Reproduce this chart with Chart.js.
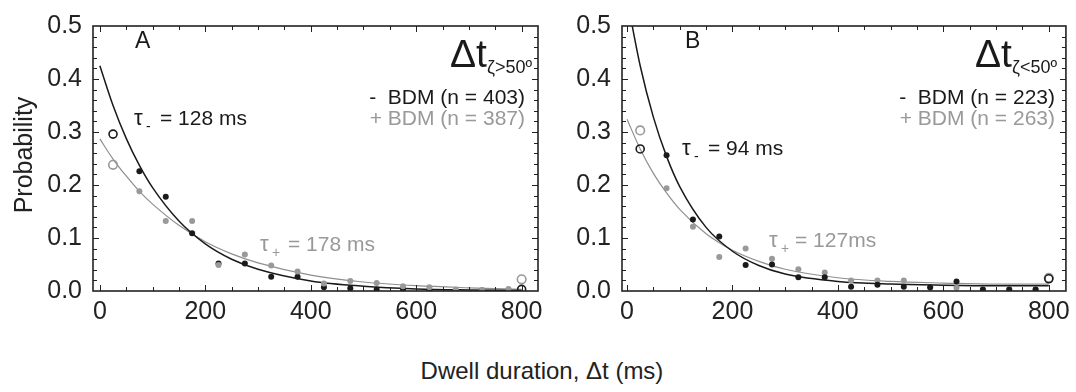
<!DOCTYPE html>
<html>
<head>
<meta charset="utf-8">
<script src="https://cdn.jsdelivr.net/npm/chart.js@4.4.0/dist/chart.umd.min.js"></script>
<style>
  html, body { margin: 0; padding: 0; background: #fff; }
  #wrap { position: relative; width: 1076px; height: 392px; overflow: hidden;
          font-family: "Liberation Sans", Arial, sans-serif; color: #222; }
  canvas { position: absolute; top: 0; }
  #xtitle { position: absolute; left: 0; width: 1084px; top: 356px; line-height: 30px;
            text-align: center; font-size: 24px; }
  #ytitle { position: absolute; left: -77px; top: 140px; width: 200px; line-height: 30px;
            text-align: center; font-size: 25px; transform: rotate(-90deg); }
</style>
</head>
<body>
<div id="wrap">
  <canvas id="panelA" width="560" height="340" style="left:0px"></canvas>
  <canvas id="panelB" width="516" height="340" style="left:560px"></canvas>
  <div id="ytitle">Probability</div>
  <div id="xtitle">Dwell duration, &Delta;t (ms)</div>
</div>
<script>
// bin centres (ms) for the filled dots, open circles sit at the first bin and the overflow bin
const binX = [75, 125, 175, 225, 275, 325, 375, 425, 475, 525, 575, 625, 675, 725, 775];
const openX = [25, 800];
const fitX = [0, 25, 50, 75, 100, 150, 200, 250, 300, 400, 500, 600, 700, 800];
const xTicks = [0, 200, 400, 600, 800];
const yTicks = [0, 0.1, 0.2, 0.3, 0.4, 0.5];

// panel A : dt, zeta > 50
const aMinus = [0.226, 0.178, 0.109, 0.052, 0.052, 0.027, 0.027, 0.007, 0.005, 0.003, 0.003, 0.001, 0.001, 0.001, 0.001];
const aPlus  = [0.188, 0.132, 0.132, 0.049, 0.069, 0.048, 0.037, 0.014, 0.019, 0.015, 0.009, 0.007, 0.003, 0.002, 0.004];
const aMinusOpen = [0.296, 0.003];
const aPlusOpen  = [0.238, 0.022];
const aMinusFit = [0.425, 0.350, 0.288, 0.237, 0.195, 0.132, 0.089, 0.060, 0.041, 0.019, 0.009, 0.004, 0.002, 0.001];
const aPlusFit  = [0.287, 0.249, 0.217, 0.188, 0.164, 0.124, 0.093, 0.070, 0.053, 0.030, 0.017, 0.010, 0.006, 0.003];

// panel B : dt, zeta < 50
const bMinus = [0.256, 0.135, 0.103, 0.049, 0.050, 0.026, 0.026, 0.008, 0.012, 0.008, 0.007, 0.018, 0.003, 0.003, 0.003];
const bPlus  = [0.194, 0.121, 0.064, 0.080, 0.061, 0.041, 0.035, 0.020, 0.020, 0.020, 0.006, 0.006, 0.003, 0.003, 0.003];
const bMinusOpen = [0.268, 0.023];
const bPlusOpen  = [0.303, 0.025];
const bMinusFit = [0.552, 0.425, 0.328, 0.254, 0.197, 0.120, 0.075, 0.048, 0.032, 0.018, 0.013, 0.011, 0.010, 0.010];
const bPlusFit  = [0.324, 0.268, 0.222, 0.185, 0.154, 0.108, 0.077, 0.056, 0.041, 0.025, 0.018, 0.015, 0.013, 0.013];

const BLACK = '#1a1a1a';
const GREY = '#999999';
const FONT = '"Liberation Sans", Arial, sans-serif';

function pts(xs, ys) {
  return xs.map((x, i) => ({ x: x, y: ys[i] }));
}

function dots(values, colour) {
  return { data: pts(binX, values), showLine: false, pointRadius: 3,
           pointBackgroundColor: colour, pointBorderWidth: 0 };
}

function rings(values, colour, r) {
  return { data: pts(openX, values), showLine: false, pointRadius: r,
           pointBackgroundColor: 'rgba(0,0,0,0)', pointBorderColor: colour, pointBorderWidth: 1.6 };
}

function fit(values, colour, w) {
  return { data: pts(fitX, values), showLine: true, pointRadius: 0, borderColor: colour,
           borderWidth: w, cubicInterpolationMode: 'monotone', fill: false };
}

// frame, inward ticks and the text notes
const framePlugin = {
  id: 'frame',
  afterDraw(chart, args, opts) {
    const ctx = chart.ctx;
    const a = chart.chartArea;
    const x = chart.scales.x, y = chart.scales.y;
    ctx.save();
    ctx.strokeStyle = '#222';
    ctx.lineWidth = 1;
    ctx.beginPath();
    for (let v = 0; v <= 800; v += 50) {
      const px = Math.round(x.getPixelForValue(v)) + 0.5;
      const len = v % 200 === 0 ? 6 : 4;
      ctx.moveTo(px, a.bottom); ctx.lineTo(px, a.bottom - len);
      ctx.moveTo(px, a.top); ctx.lineTo(px, a.top + len);
    }
    for (let i = 1; i < 25; i++) {
      const py = Math.round(y.getPixelForValue(i * 0.02)) + 0.5;
      const len = i % 5 === 0 ? 6 : 4;
      ctx.moveTo(a.left, py); ctx.lineTo(a.left + len, py);
      ctx.moveTo(a.right, py); ctx.lineTo(a.right - len, py);
    }
    ctx.stroke();
    ctx.lineWidth = 1.6;
    ctx.strokeRect(a.left, a.top, a.right - a.left, a.bottom - a.top);

    const off = opts.offset;
    ctx.textBaseline = 'alphabetic';
    // panel letter
    ctx.fillStyle = BLACK;
    ctx.font = '23px ' + FONT;
    ctx.textAlign = 'left';
    ctx.fillText(opts.letter, opts.letterX - off, 48);

    // big dt with subscript, right aligned
    ctx.font = '39px ' + FONT;
    const w1 = ctx.measureText('\u0394t').width;
    ctx.font = '18px ' + FONT;
    const w2 = ctx.measureText(opts.sub).width;
    const start = opts.dtRight - off - w1 - w2;
    ctx.font = '39px ' + FONT;
    ctx.fillText('\u0394t', start, 67);
    ctx.font = '18px ' + FONT;
    ctx.fillText(opts.sub, start + w1, 73);

    // legend lines
    ctx.font = '21px ' + FONT;
    ctx.textAlign = 'right';
    ctx.fillStyle = BLACK;
    ctx.fillText(opts.leg1, opts.legRight - off, 104);
    ctx.fillStyle = GREY;
    ctx.fillText(opts.leg2, opts.legRight - off, 125);

    // tau labels
    ctx.textAlign = 'left';
    opts.taus.forEach(t => {
      ctx.fillStyle = t.colour;
      ctx.font = '22px ' + FONT;
      ctx.fillText('\u03C4', t.x - off, t.base);
      ctx.font = '21px ' + FONT;
      ctx.fillText(t.text, t.x - off + t.gap, t.base);
      ctx.font = '14px ' + FONT;
      ctx.fillText(t.sign, t.x - off + 12, t.base + 6);
    });
    ctx.restore();
  }
};

function makePanel(id, cfg) {
  // the first dataset is drawn on top
  const dotSets = cfg.greyOnTop
    ? [dots(cfg.plus, GREY), dots(cfg.minus, BLACK)]
    : [dots(cfg.minus, BLACK), dots(cfg.plus, GREY)];
  return new Chart(document.getElementById(id), {
    type: 'scatter',
    data: { datasets: dotSets.concat([
      rings(cfg.minusOpen, BLACK, 4),
      rings(cfg.plusOpen, GREY, 4.3),
      fit(cfg.minusFit, BLACK, 1.5),
      fit(cfg.plusFit, '#8f8f8f', 1.2)
    ]) },
    options: {
      responsive: false,
      animation: false,
      layout: { padding: { top: 15, right: cfg.padRight, left: 0, bottom: 0 } },
      scales: {
        x: {
          type: 'linear', min: cfg.xMin, max: cfg.xMax,
          afterBuildTicks: s => { s.ticks = xTicks.map(v => ({ value: v })); },
          afterFit: s => { s.height = 49; },
          grid: { display: false, drawTicks: false },
          border: { display: false },
          ticks: { padding: 6, color: '#222', font: { size: 25, family: FONT } }
        },
        y: {
          type: 'linear', min: 0, max: 0.5,
          afterBuildTicks: s => { s.ticks = yTicks.map(v => ({ value: v })); },
          afterFit: s => { s.width = cfg.yWidth; },
          grid: { display: false, drawTicks: false },
          border: { display: false },
          ticks: { padding: 11, color: '#222', font: { size: 25, family: FONT },
                   callback: v => v.toFixed(1) }
        }
      },
      plugins: {
        legend: { display: false },
        tooltip: { enabled: false },
        frame: cfg.notes
      }
    },
    plugins: [framePlugin]
  });
}

makePanel('panelA', {
  minus: aMinus, plus: aPlus, minusOpen: aMinusOpen, plusOpen: aPlusOpen,
  minusFit: aMinusFit, plusFit: aPlusFit, greyOnTop: true,
  xMin: -13, xMax: 831, yWidth: 93, padRight: 22,
  notes: {
    offset: 0, letter: 'A', letterX: 135, sub: '\u03B6>50\u00BA', dtRight: 532,
    leg1: '-  BDM (n = 403)', leg2: '+ BDM (n = 387)', legRight: 525,
    taus: [
      { x: 134, base: 125, sign: '-', text: '= 128 ms', gap: 26, colour: BLACK },
      { x: 260, base: 251, sign: '+', text: '= 178 ms', gap: 28, colour: GREY }
    ]
  }
});

makePanel('panelB', {
  minus: bMinus, plus: bPlus, minusOpen: bMinusOpen, plusOpen: bPlusOpen,
  minusFit: bMinusFit, plusFit: bPlusFit, greyOnTop: false,
  xMin: -9.5, xMax: 832.5, yWidth: 62, padRight: 9,
  notes: {
    offset: 560, letter: 'B', letterX: 685, sub: '\u03B6<50\u00BA', dtRight: 1057,
    leg1: '-  BDM (n = 223)', leg2: '+ BDM (n = 263)', legRight: 1055,
    taus: [
      { x: 682, base: 155, sign: '-', text: '= 94 ms', gap: 26, colour: BLACK },
      { x: 769, base: 247, sign: '+', text: '= 127ms', gap: 26, colour: GREY }
    ]
  }
});
</script>
</body>
</html>
